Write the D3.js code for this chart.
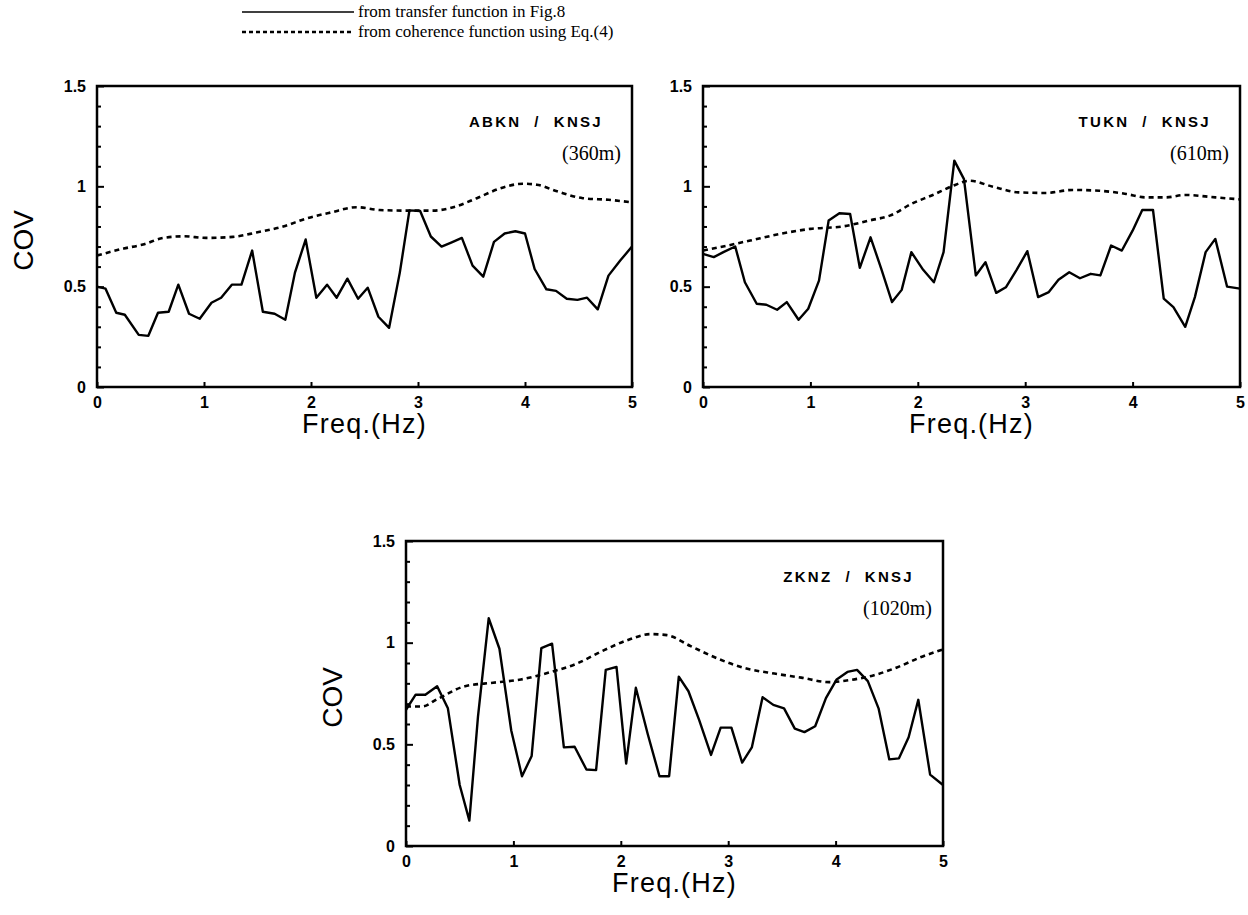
<!DOCTYPE html>
<html>
<head>
<meta charset="utf-8">
<script src="https://cdn.jsdelivr.net/npm/d3@7"></script>
<style>
  body { margin: 0; background: #fff; }
  svg { display: block; }
</style>
</head>
<body>
<svg id="chart" width="1248" height="915"></svg>
<script>
// axis ticks
const freqTicks = [0, 1, 2, 3, 4, 5];
const covTicks = [0, 0.5, 1, 1.5];
const covMinorTicks = [0.1, 0.2, 0.3, 0.4, 0.6, 0.7, 0.8, 0.9, 1.1, 1.2, 1.3, 1.4];

const legendLabels = ["from transfer function in Fig.8", "from coherence function using Eq.(4)"];

// ABKN / KNSJ (360m)  [freq, COV]
const abknTransfer = [
  [0, 0.50], [0.08, 0.49], [0.18, 0.37], [0.26, 0.36], [0.39, 0.26], [0.48, 0.255],
  [0.57, 0.37], [0.67, 0.375], [0.76, 0.51], [0.86, 0.365], [0.96, 0.34], [1.07, 0.42],
  [1.16, 0.445], [1.26, 0.51], [1.35, 0.51], [1.45, 0.68], [1.55, 0.375], [1.66, 0.365],
  [1.76, 0.335], [1.85, 0.57], [1.95, 0.735], [2.05, 0.445], [2.15, 0.51], [2.24, 0.445],
  [2.34, 0.54], [2.44, 0.44], [2.53, 0.495], [2.63, 0.35], [2.73, 0.295], [2.83, 0.57],
  [2.92, 0.88], [3.02, 0.877], [3.12, 0.75], [3.22, 0.70], [3.31, 0.72], [3.41, 0.743],
  [3.51, 0.605], [3.61, 0.55], [3.71, 0.723], [3.81, 0.765], [3.91, 0.776], [4.0, 0.765],
  [4.09, 0.588], [4.2, 0.487], [4.29, 0.479], [4.39, 0.44], [4.49, 0.434], [4.58, 0.445],
  [4.68, 0.387], [4.78, 0.555], [4.89, 0.63], [5.0, 0.70]
];
const abknCoherence = [
  [0, 0.655], [0.25, 0.69], [0.43, 0.71], [0.62, 0.743], [0.81, 0.751], [1.02, 0.743],
  [1.27, 0.748], [1.49, 0.77], [1.74, 0.80], [1.96, 0.84], [2.18, 0.869], [2.43, 0.896],
  [2.64, 0.882], [2.89, 0.879], [3.14, 0.879], [3.33, 0.896], [3.55, 0.941], [3.76, 0.988],
  [3.98, 1.013], [4.11, 1.008], [4.3, 0.975], [4.54, 0.941], [4.78, 0.933], [5.0, 0.92]
];

// TUKN / KNSJ (610m)
const tuknTransfer = [
  [0, 0.663], [0.1, 0.647], [0.19, 0.672], [0.3, 0.70], [0.39, 0.522], [0.5, 0.415],
  [0.59, 0.41], [0.69, 0.385], [0.78, 0.423], [0.89, 0.335], [0.98, 0.39], [1.08, 0.53],
  [1.17, 0.83], [1.27, 0.866], [1.37, 0.862], [1.46, 0.594], [1.56, 0.746], [1.66, 0.589],
  [1.76, 0.423], [1.85, 0.484], [1.94, 0.672], [2.05, 0.584], [2.15, 0.522], [2.24, 0.672],
  [2.34, 1.128], [2.43, 1.036], [2.54, 0.556], [2.63, 0.622], [2.73, 0.469], [2.82, 0.497],
  [2.92, 0.584], [3.02, 0.677], [3.12, 0.448], [3.22, 0.473], [3.31, 0.534], [3.41, 0.572],
  [3.51, 0.542], [3.61, 0.564], [3.7, 0.556], [3.8, 0.705], [3.9, 0.68], [4.0, 0.779],
  [4.09, 0.882], [4.19, 0.882], [4.29, 0.44], [4.38, 0.398], [4.49, 0.30], [4.58, 0.448],
  [4.68, 0.672], [4.77, 0.738], [4.88, 0.50], [5.0, 0.49]
];
const tuknCoherence = [
  [0, 0.68], [0.16, 0.697], [0.44, 0.73], [0.72, 0.763], [1.0, 0.788], [1.3, 0.80],
  [1.55, 0.83], [1.74, 0.854], [1.95, 0.915], [2.14, 0.957], [2.33, 1.003], [2.48, 1.028],
  [2.7, 0.998], [2.94, 0.97], [3.19, 0.967], [3.44, 0.982], [3.69, 0.978], [3.94, 0.962],
  [4.12, 0.945], [4.31, 0.945], [4.49, 0.957], [4.77, 0.945], [5.0, 0.935]
];

// ZKNZ / KNSJ (1020m)
const zknzTransfer = [
  [0, 0.67], [0.09, 0.744], [0.18, 0.744], [0.29, 0.786], [0.39, 0.677], [0.5, 0.30],
  [0.59, 0.125], [0.67, 0.635], [0.77, 1.12], [0.87, 0.97], [0.98, 0.568], [1.08, 0.343],
  [1.17, 0.443], [1.26, 0.973], [1.36, 0.995], [1.47, 0.485], [1.57, 0.488], [1.68, 0.376],
  [1.77, 0.373], [1.86, 0.866], [1.96, 0.881], [2.05, 0.405], [2.14, 0.778], [2.25, 0.552],
  [2.36, 0.343], [2.45, 0.343], [2.54, 0.833], [2.63, 0.761], [2.73, 0.619], [2.84, 0.448],
  [2.93, 0.582], [3.03, 0.582], [3.13, 0.41], [3.22, 0.485], [3.32, 0.732], [3.42, 0.694],
  [3.52, 0.677], [3.62, 0.577], [3.71, 0.56], [3.81, 0.589], [3.91, 0.727], [4.01, 0.819],
  [4.11, 0.856], [4.2, 0.866], [4.3, 0.811], [4.4, 0.677], [4.5, 0.426], [4.59, 0.431],
  [4.68, 0.535], [4.77, 0.719], [4.88, 0.351], [5.0, 0.30]
];
const zknzCoherence = [
  [0, 0.686], [0.15, 0.686], [0.29, 0.722], [0.55, 0.786], [0.81, 0.803], [1.07, 0.819],
  [1.33, 0.853], [1.58, 0.895], [1.84, 0.962], [2.06, 1.012], [2.28, 1.042], [2.43, 1.037],
  [2.65, 0.983], [2.91, 0.92], [3.17, 0.873], [3.43, 0.848], [3.68, 0.828], [3.94, 0.806],
  [4.13, 0.816], [4.35, 0.839], [4.57, 0.878], [4.79, 0.928], [5.0, 0.967]
];

const svg = d3.select("#chart");
const sans = "'Liberation Sans', Arial, sans-serif";
const serif = "'Liberation Serif', 'Times New Roman', serif";

const panels = [
  { pair: "ABKN / KNSJ", dist: "(360m)", solid: abknTransfer, dashed: abknCoherence,
    left: 97, top: 86, width: 535, height: 301, cov: true },
  { pair: "TUKN / KNSJ", dist: "(610m)", solid: tuknTransfer, dashed: tuknCoherence,
    left: 703, top: 86, width: 537, height: 301, cov: false },
  { pair: "ZKNZ / KNSJ", dist: "(1020m)", solid: zknzTransfer, dashed: zknzCoherence,
    left: 406, top: 541, width: 537, height: 305, cov: true }
];

panels.forEach(p => {
  const g = svg.append("g").attr("transform", `translate(${p.left},${p.top})`);
  const x = d3.scaleLinear().domain([0, 5]).range([0, p.width]);
  const y = d3.scaleLinear().domain([0, 1.5]).range([p.height, 0]);

  // minor y ticks
  g.append("g")
    .call(d3.axisLeft(y).tickValues(covMinorTicks).tickSize(-4).tickFormat(""))
    .call(a => a.select(".domain").remove())
    .selectAll("line").attr("stroke-width", 2);

  // major y ticks + labels
  g.append("g")
    .call(d3.axisLeft(y).tickValues(covTicks).tickSize(-7).tickPadding(11).tickFormat(d => d))
    .call(a => a.select(".domain").remove())
    .call(a => a.selectAll("line").attr("stroke-width", 2))
    .call(a => a.selectAll("text").attr("font-size", 16).attr("font-weight", "bold")
      .attr("font-family", sans));

  // x ticks + labels
  g.append("g")
    .attr("transform", `translate(0,${p.height})`)
    .call(d3.axisBottom(x).tickValues(freqTicks).tickSize(-5).tickPadding(10).tickFormat(d => d))
    .call(a => a.select(".domain").remove())
    .call(a => a.selectAll("line").attr("stroke-width", 2))
    .call(a => a.selectAll("text").attr("font-size", 16).attr("font-weight", "bold")
      .attr("font-family", sans));

  // frame
  g.append("rect")
    .attr("width", p.width).attr("height", p.height)
    .attr("fill", "none").attr("stroke", "#000").attr("stroke-width", 2.5);

  // coherence (dashed)
  g.append("path")
    .datum(p.dashed)
    .attr("fill", "none").attr("stroke", "#000").attr("stroke-width", 2.6)
    .attr("stroke-dasharray", "5,4")
    .attr("d", d3.line().x(d => x(d[0])).y(d => y(d[1])).curve(d3.curveMonotoneX));

  // transfer (solid)
  g.append("path")
    .datum(p.solid)
    .attr("fill", "none").attr("stroke", "#000").attr("stroke-width", 2.4)
    .attr("stroke-linejoin", "round")
    .attr("d", d3.line().x(d => x(d[0])).y(d => y(d[1])));

  // station pair
  g.append("text")
    .attr("x", p.width - 29).attr("y", 41)
    .attr("text-anchor", "end")
    .attr("font-family", sans).attr("font-weight", "bold").attr("font-size", 15)
    .attr("letter-spacing", 2.3)
    .style("white-space", "pre")
    .text(p.pair.replace(" / ", "  /  "));
  g.append("text")
    .attr("x", p.width - 11).attr("y", 74)
    .attr("text-anchor", "end")
    .attr("font-family", serif).attr("font-size", 20)
    .text(p.dist);

  // axis titles
  g.append("text")
    .attr("x", p.width / 2).attr("y", p.height + 46)
    .attr("text-anchor", "middle")
    .attr("font-family", sans).attr("font-size", 27)
    .attr("letter-spacing", 1.2)
    .text("Freq.(Hz)");
  if (p.cov) {
    g.append("text")
      .attr("transform", `translate(-64,${p.height / 2 + 4}) rotate(-90)`)
      .attr("text-anchor", "middle")
      .attr("font-family", sans).attr("font-size", 28)
      .text("COV");
  }
});

// legend
const legend = svg.append("g").attr("transform", "translate(242,0)");
legendLabels.forEach((label, i) => {
  const ly = 12 + i * 20;
  legend.append("line")
    .attr("x1", 0).attr("x2", i ? 110 : 112).attr("y1", ly).attr("y2", ly)
    .attr("stroke", "#000").attr("stroke-width", i ? 2.6 : 1.6)
    .attr("stroke-dasharray", i ? "4,3" : null);
  legend.append("text")
    .attr("x", 116).attr("y", ly + 5)
    .attr("font-family", serif).attr("font-size", 17)
    .text(label);
});
</script>
</body>
</html>
